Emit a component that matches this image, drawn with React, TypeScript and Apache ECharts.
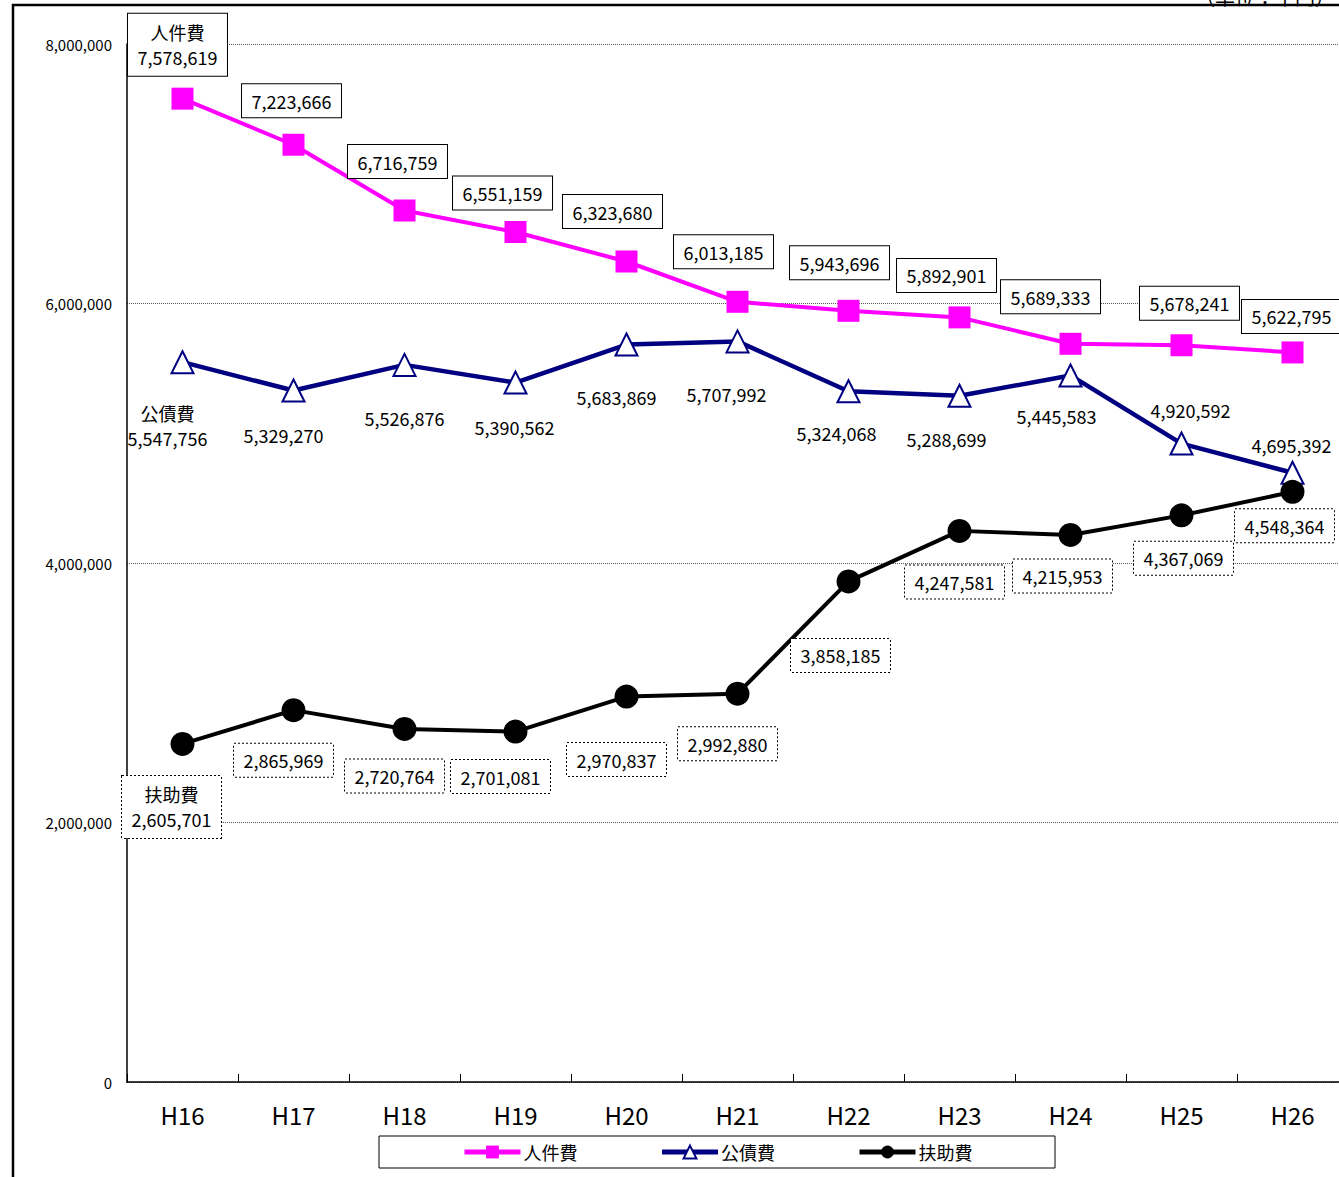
import React, { useEffect, useRef } from 'react'
import * as echarts from 'echarts'

const years = ['H16', 'H17', 'H18', 'H19', 'H20', 'H21', 'H22', 'H23', 'H24', 'H25', 'H26']
const jinkenhi = [7578619, 7223666, 6716759, 6551159, 6323680, 6013185, 5943696, 5892901, 5689333, 5678241, 5622795]
const kousaihi = [5547756, 5329270, 5526876, 5390562, 5683869, 5707992, 5324068, 5288699, 5445583, 4920592, 4695392]
const fujohi = [2605701, 2865969, 2720764, 2701081, 2970837, 2992880, 3858185, 4247581, 4215953, 4367069, 4548364]
const yTicks = [0, 2000000, 4000000, 6000000, 8000000]

// ラベル位置のずらし（点からの相対）
const jinkenShift = [[-5, -54], [-2, -44], [-7, -49], [-13, -39], [-14, -50], [-14, -50], [-9, -48], [-13, -42], [-20, -47], [8, -42], [-1, -36]]
const kousaiShift = [[-15, 63], [-10, 44], [0, 53], [-1, 44], [-10, 52], [-11, 53], [-12, 42], [-13, 43], [-14, 41], [9, -34], [-1, -28]]
const fujoShift = [[-11, 63], [-10, 50], [-10, 47], [-15, 45], [-10, 63], [-10, 50], [-8, 74], [-5, 51], [-8, 41], [2, 43], [-8, 34]]

const FONT = '"Noto Sans CJK JP", "Noto Sans", sans-serif'
const fmt = (v: number) => v.toLocaleString('en-US')

const App: React.FC = () => {
  const chartRef = useRef<HTMLDivElement>(null)

  useEffect(() => {
    if (!chartRef.current) return
    const chart = echarts.init(chartRef.current, undefined, { renderer: 'svg' })

    const makeData = (values: number[], shift: number[][]) =>
      values.map((v, i) => ({
        value: v,
        label: i === 0 ? { offset: shift[i], lineHeight: 25 } : { offset: shift[i] }
      }))

    const baseLabel = {
      show: true,
      position: 'inside',
      fontFamily: FONT,
      fontSize: 18,
      color: '#000',
      lineHeight: 21,
      align: 'center'
    }

    const option = {
      animation: false,
      backgroundColor: '#fff',
      textStyle: { fontFamily: FONT },
      grid: { left: 127, top: 44, bottom: 95, right: 12 },
      legend: {
        left: 462,
        top: 1143,
        padding: 0,
        itemWidth: 56,
        itemHeight: 16,
        itemGap: 82,
        lineStyle: { width: 5 },
        textStyle: { fontFamily: FONT, fontSize: 18, color: '#000', padding: [0, 0, 0, -2] },
        data: ['人件費', '公債費', '扶助費']
      },
      graphic: [
        {
          type: 'rect',
          shape: { x: 13, y: 5, width: 1500, height: 1400 },
          style: { fill: 'none', stroke: '#000', lineWidth: 2.5 },
          silent: true
        },
        {
          type: 'rect',
          shape: { x: 379, y: 1136, width: 676, height: 32 },
          style: { fill: 'none', stroke: '#000', lineWidth: 1 },
          silent: true
        },
        {
          type: 'text',
          x: 1195,
          y: -14,
          style: { text: '（単位：千円）', fontFamily: FONT, fontSize: 20, fill: '#000' },
          silent: true
        }
      ],
      xAxis: {
        type: 'category',
        data: years,
        boundaryGap: true,
        axisLine: { lineStyle: { color: '#000', width: 1.5 } },
        axisTick: { show: true, inside: true, length: 8, lineStyle: { color: '#000' } },
        axisLabel: { fontFamily: FONT, fontSize: 24, color: '#000', margin: 20 },
        splitLine: { show: false }
      },
      yAxis: {
        type: 'value',
        min: yTicks[0],
        max: yTicks[yTicks.length - 1],
        interval: yTicks[1] - yTicks[0],
        axisLine: { show: true, lineStyle: { color: '#000', width: 1.5 } },
        axisTick: { show: false },
        axisLabel: {
          fontFamily: FONT,
          fontSize: 15,
          color: '#000',
          margin: 15,
          formatter: (v: number) => fmt(v)
        },
        splitLine: { show: true, lineStyle: { color: '#555', type: 'dotted', width: 1 } }
      },
      series: [
        {
          name: '人件費',
          type: 'line',
          symbol: 'rect',
          symbolSize: 22,
          lineStyle: { color: '#ff00ff', width: 4 },
          itemStyle: { color: '#ff00ff' },
          z: 3,
          label: {
            ...baseLabel,
            width: 83,
            padding: [6, 8],
            backgroundColor: '#fff',
            borderColor: '#000',
            borderWidth: 1,
            formatter: (p: any) => (p.dataIndex === 0 ? `人件費\n${fmt(p.value)}` : fmt(p.value))
          },
          data: makeData(jinkenhi, jinkenShift)
        },
        {
          name: '公債費',
          type: 'line',
          symbol: 'triangle',
          symbolSize: 22,
          lineStyle: { color: '#000080', width: 4.5 },
          itemStyle: { color: '#fff', borderColor: '#000080', borderWidth: 2 },
          z: 2,
          label: {
            ...baseLabel,
            formatter: (p: any) => (p.dataIndex === 0 ? `公債費\n${fmt(p.value)}` : fmt(p.value))
          },
          data: makeData(kousaihi, kousaiShift)
        },
        {
          name: '扶助費',
          type: 'line',
          symbol: 'circle',
          symbolSize: 24,
          lineStyle: { color: '#000', width: 4 },
          itemStyle: { color: '#000' },
          z: 4,
          label: {
            ...baseLabel,
            width: 83,
            padding: [6, 8],
            backgroundColor: '#fff',
            borderColor: '#000',
            borderWidth: 1,
            borderType: 'dotted',
            formatter: (p: any) => (p.dataIndex === 0 ? `扶助費\n${fmt(p.value)}` : fmt(p.value))
          },
          data: makeData(fujohi, fujoShift)
        }
      ]
    }

    chart.setOption(option)
    return () => {
      chart.dispose()
    }
  }, [])

  return (
    <div
      style={{
        position: 'fixed',
        left: 0,
        top: 0,
        width: 1339,
        height: 1177,
        overflow: 'hidden',
        background: '#fff'
      }}
    >
      <div ref={chartRef} style={{ width: 1360, height: 1177 }} />
    </div>
  )
}

export default App
